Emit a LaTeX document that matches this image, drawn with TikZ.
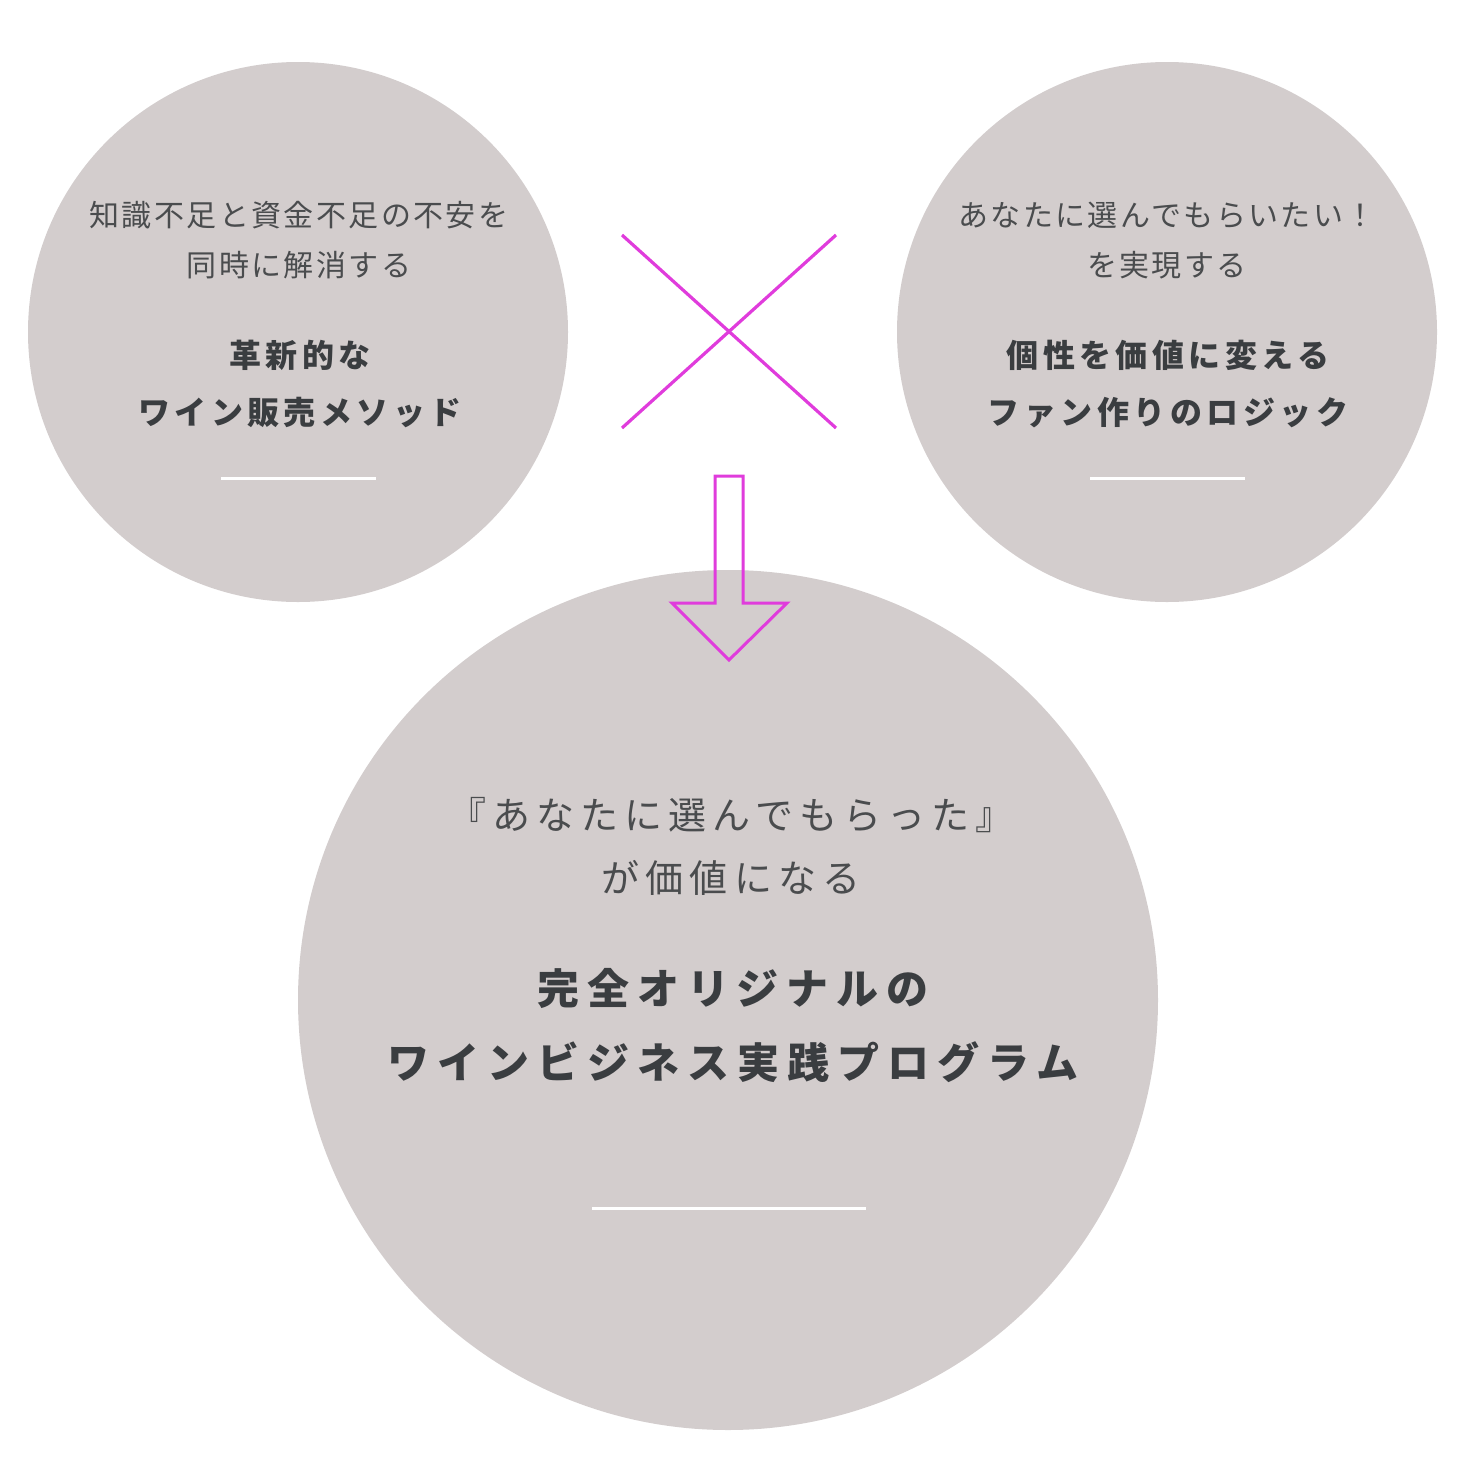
\documentclass[tikz,border=0pt]{standalone}
\usepackage{fontspec}
\newfontfamily\jpn{Noto Sans CJK JP}
\definecolor{circfill}{HTML}{D3CDCD}
\definecolor{magenta}{HTML}{E03CDC}
\definecolor{txtlight}{HTML}{4A4C4E}
\definecolor{txtbold}{HTML}{3A3D40}
\tikzset{
  bubble/.style={circle, fill=circfill, inner sep=0pt},
  thin/.style 2 args={font=\jpn\fontsize{#1}{#1}\selectfont\addfontfeatures{LetterSpace=#2}, text=txtlight, inner sep=0pt},
  heavy/.style 2 args={font=\jpn\bfseries\fontsize{#1}{#1}\selectfont\addfontfeatures{LetterSpace=#2}, text=txtbold, inner sep=0pt},
  rule/.style={draw=white, line width=3pt},
  mag/.style={draw=magenta, line width=3.2pt}
}
\begin{document}
\begin{tikzpicture}[x=1pt,y=-1pt]
\useasboundingbox (0,0) rectangle (1458,1459);
% circles
\node[bubble, minimum size=540pt] (L) at (298,332) {};
\node[bubble, minimum size=540pt] (R) at (1167,332) {};
\node[bubble, minimum size=860pt] (B) at (728,1000) {};
% left texts
\node[thin={30}{8}] (l1) at (299,215) {知識不足と資金不足の不安を};
\node[thin={30}{8}] (l2) at (299,265) {同時に解消する};
\node[heavy={32}{14}] (l3) at (300,355) {革新的な};
\node[heavy={32}{14}] (l4) at (300,413) {ワイン販売メソッド};
\draw[rule] (221,478) -- (376,478);
% right texts
\node[thin={30}{8}] (r1) at (1167,215) {あなたに選んでもらいたい！};
\node[thin={30}{8}] (r2) at (1167,265) {を実現する};
\node[heavy={32}{14}] (r3) at (1168,355) {個性を価値に変える};
\node[heavy={32}{14}] (r4) at (1168,413) {ファン作りのロジック};
\draw[rule] (1090,478) -- (1245,478);
% bottom texts
\node[thin={38}{16}] (b1) at (731,815) {『あなたに選んでもらった』};
\node[thin={38}{16}] (b2) at (731,878) {が価値になる};
\node[heavy={42}{19}] (b3) at (733,988) {完全オリジナルの};
\node[heavy={42}{19}] (b4) at (733,1062) {ワインビジネス実践プログラム};
\draw[rule] (592,1208) -- (866,1208);
% cross
\coordinate (c1) at (622,235);
\coordinate (c2) at (836,428);
\coordinate (c3) at (836,235);
\coordinate (c4) at (622,428);
\draw[mag] (c1) -- (c2);
\draw[mag] (c3) -- (c4);
% arrow
\draw[mag, line width=3pt, line join=miter] (715,476) -- (743,476) -- (743,603) -- (787,603) -- (729,660) -- (672,603) -- (715,603) -- cycle;
\end{tikzpicture}
\end{document}
